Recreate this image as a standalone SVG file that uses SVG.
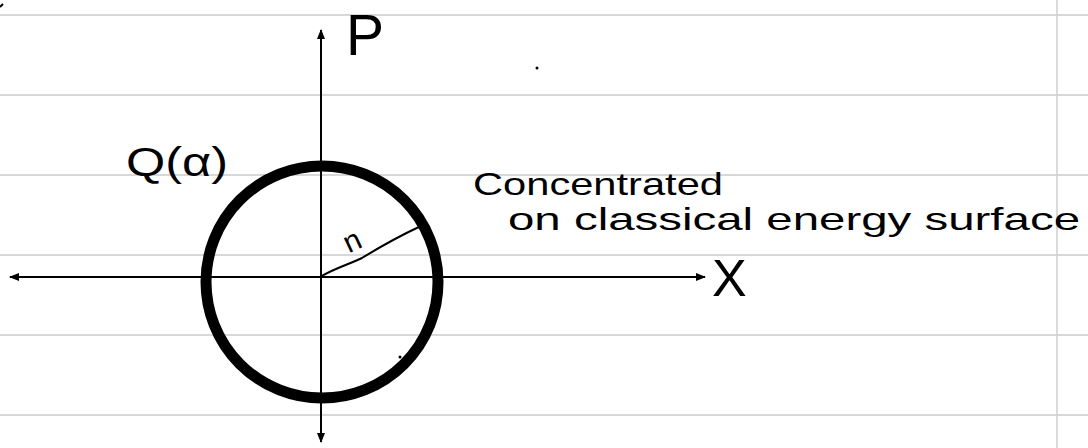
<svg xmlns="http://www.w3.org/2000/svg" width="1088" height="448" viewBox="0 0 1088 448">
<style>
.rule{stroke:#d8d8d8;stroke-width:2}
.ax{stroke:#000;stroke-width:2;fill:none}
.hw{font-family:"Liberation Sans",Arial,sans-serif;fill:#000}
</style>
<defs>
<marker id="ah" viewBox="0 0 10 10" refX="9" refY="5" markerWidth="10" markerHeight="10" markerUnits="userSpaceOnUse" orient="auto-start-reverse">
<path d="M0,1 L10,5 L0,9 Z" fill="#000"/>
</marker>
</defs>
<rect width="1088" height="448" fill="#fff"/>
<g id="paper">
<line class="rule" x1="0" y1="15" x2="1088" y2="15"/>
<line class="rule" x1="0" y1="95" x2="1088" y2="95"/>
<line class="rule" x1="0" y1="175" x2="1088" y2="175"/>
<line class="rule" x1="0" y1="255" x2="1088" y2="255"/>
<line class="rule" x1="0" y1="335" x2="1088" y2="335"/>
<line class="rule" x1="0" y1="415" x2="1088" y2="415"/>
<line x1="1057" y1="0" x2="1057" y2="448" stroke="#cfcfcf" stroke-width="1.5"/>
<path d="M0,7 L3,4" stroke="#000" stroke-width="2"/>
</g>
<g id="connectors">
<line class="ax" x1="321" y1="30" x2="321" y2="442" marker-start="url(#ah)" marker-end="url(#ah)"/>
<line class="ax" x1="10" y1="277" x2="705" y2="277" marker-start="url(#ah)" marker-end="url(#ah)"/>
<path class="ax" d="M320,277 C335,268 350,264 362,258 C375,250 395,238 421,226"/>
</g>
<g id="circle">
<circle cx="322" cy="282" r="116" fill="none" stroke="#000" stroke-width="11"/>
</g>
<g id="labels">
<text class="hw" x="346" y="55" font-size="57">P</text>
<text class="hw" x="712" y="296" font-size="52">X</text>
<text class="hw" x="126" y="176" font-size="40" textLength="102" lengthAdjust="spacingAndGlyphs">Q(α)</text>
<text class="hw" x="343" y="248" font-size="30" transform="rotate(-25 358 238)">n</text>
<text class="hw" x="473" y="195" font-size="32" textLength="250" lengthAdjust="spacingAndGlyphs">Concentrated</text>
<text class="hw" x="508" y="230" font-size="32" textLength="572" lengthAdjust="spacingAndGlyphs">on classical energy surface</text>
<circle cx="537" cy="68" r="1.5" fill="#000"/>
<circle cx="400" cy="357" r="1.5" fill="#000"/>
</g>
</svg>
